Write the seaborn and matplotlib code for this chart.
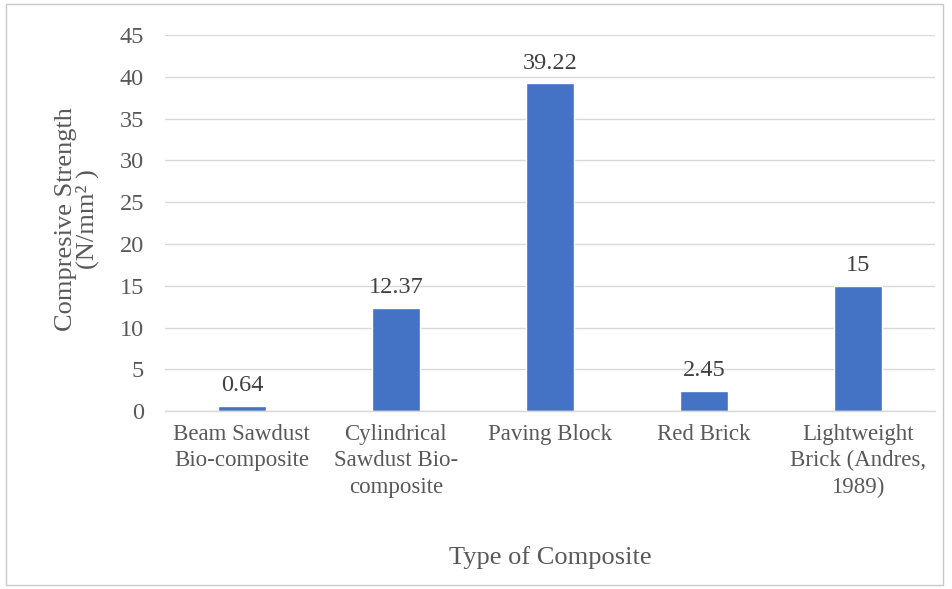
"""Compressive strength of composite types - bar chart."""

import matplotlib
matplotlib.use("Agg")
import matplotlib.pyplot as plt
import matplotlib.patches as mpatches
import seaborn as sns
import pandas as pd

categories = [
    "Beam Sawdust\nBio-composite",
    "Cylindrical\nSawdust Bio-\ncomposite",
    "Paving Block",
    "Red Brick",
    "Lightweight\nBrick (Andres,\n1989)",
]
strength = [0.64, 12.37, 39.22, 2.45, 15]
value_labels = ["0.64", "12.37", "39.22", "2.45", "15"]

sns.set_theme(style="white")
plt.rcParams["font.family"] = ["Liberation Serif", "DejaVu Serif"]

TEXT = "#595959"
BAR = "#4472C4"

df = pd.DataFrame({"type": categories, "strength": strength})

fig = plt.figure(figsize=(9.53, 5.89), dpi=100)
ax = fig.add_axes([0.173, 0.302, 0.808, 0.6385])

sns.barplot(data=df, x="type", y="strength", color=BAR, width=0.31,
            saturation=1, ax=ax)

ax.set_ylim(0, 45)
ax.set_yticks(range(0, 50, 5))
ax.yaxis.grid(True, color="#d9d9d9", linewidth=1)
ax.set_axisbelow(True)
for side in ["top", "right", "left"]:
    ax.spines[side].set_visible(False)
ax.spines["bottom"].set_color("#d9d9d9")
ax.spines["bottom"].set_linewidth(1)

ax.tick_params(axis="y", length=0, pad=15, labelsize=17.5, labelcolor=TEXT)
ax.tick_params(axis="x", length=0, pad=9, labelsize=16.5, labelcolor=TEXT)
for lbl in ax.get_xticklabels():
    lbl.set_multialignment("center")
    lbl.set_linespacing(1.35)

for bar, txt in zip(ax.patches, value_labels):
    ax.annotate(txt, (bar.get_x() + bar.get_width() / 2, bar.get_height()),
                xytext=(0, 7), textcoords="offset points",
                ha="center", va="bottom", fontsize=17.5, color="#404040")

ax.set_xlabel("Type of Composite", fontsize=19, color=TEXT, va="center")
ax.xaxis.set_label_coords(0.5, -0.388)
ax.set_ylabel("Compresive Strength\n(N/mm² )", fontsize=19, color=TEXT,
              linespacing=0.9, va="center")
ax.yaxis.set_label_coords(-0.114, 0.51)

fig.patches.append(mpatches.Rectangle(
    (6 / 953, 4 / 589), 937 / 953, 581 / 589, transform=fig.transFigure,
    fill=False, edgecolor="#c8c8c8", linewidth=1))

fig.savefig("out.png", dpi=100)
plt.close(fig)
